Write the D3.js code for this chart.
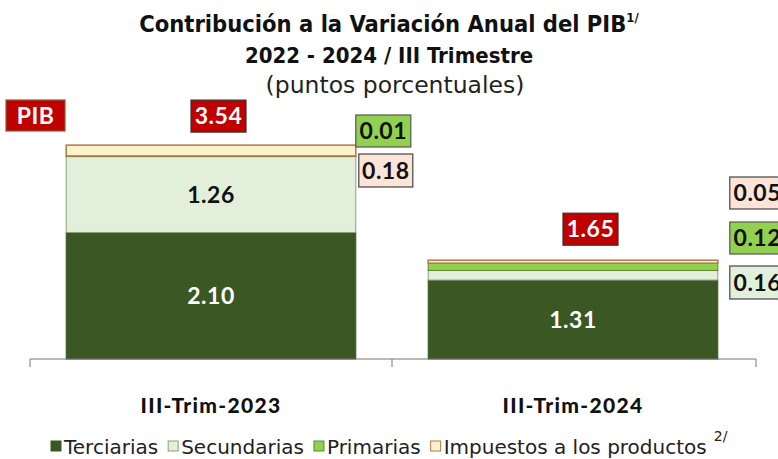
<!DOCTYPE html>
<html><head><meta charset="utf-8">
<script src="https://cdn.jsdelivr.net/npm/d3@7"></script>
<style>body{margin:0;background:#fff}svg{display:block}</style>
</head><body>
<svg id="c" width="778" height="459"></svg>
<script>
const categories = ["III-Trim-2023", "III-Trim-2024"];
const seriesNames = ["Terciarias", "Secundarias", "Primarias", "Impuestos a los productos"];
const terciarias = [2.10, 1.31];
const secundarias = [1.26, 0.16];
const primarias = [0.01, 0.12];
const impuestos = [0.18, 0.05];
const pib = [3.54, 1.65];
const fills = ["#3a5724", "#e2efda", "#92d050", "#fff2cc"];
const strokes = ["#3a5724", "#8aa07a", "#5a8a2a", "#b07a4a"];
const boxFills = [null, "#e2efda", "#92d050", "#fce4d6"];

const svg = d3.select("#c");
const F = "Lato, 'DejaVu Sans', sans-serif";
const FC = "'DejaVu Sans Condensed', 'DejaVu Sans', sans-serif";
const FW = "'DejaVu Sans', sans-serif";

const rows = categories.map((c, i) => ({cat: c, "Terciarias": terciarias[i], "Secundarias": secundarias[i], "Primarias": primarias[i], "Impuestos a los productos": impuestos[i]}));
const stack = d3.stack().keys(seriesNames)(rows);

const x = d3.scaleBand().domain(categories).range([30, 754]).paddingInner(0.2).paddingOuter(0.1);
const y = d3.scaleLinear().domain([0, 4]).range([359, 118]);

// title
const t = svg.append("text").attr("x", 389).attr("y", 32).attr("text-anchor", "middle")
  .attr("font-family", FC).attr("font-weight", "bold").attr("font-size", 23.5).attr("fill", "#111");
t.append("tspan").text("Contribución a la Variación Anual del PIB");
t.append("tspan").attr("font-size", 13).attr("dy", -10).text("1/");
svg.append("text").attr("x", 389).attr("y", 63).attr("text-anchor", "middle")
  .attr("font-family", FC).attr("font-weight", "bold").attr("font-size", 22).attr("fill", "#111")
  .text("2022 - 2024 / III Trimestre");
svg.append("text").attr("x", 395).attr("y", 93).attr("text-anchor", "middle")
  .attr("font-family", FW).attr("font-size", 23.5).attr("fill", "#222").text("(puntos porcentuales)");

// bars
stack.forEach((s, si) => {
  svg.append("g").selectAll("rect").data(s).join("rect")
    .attr("x", d => x(d.data.cat)).attr("width", x.bandwidth())
    .attr("y", d => y(d[1])).attr("height", d => y(d[0]) - y(d[1]))
    .attr("fill", fills[si]).attr("stroke", strokes[si]).attr("stroke-width", si === 3 ? 1.5 : 1);
});

// axis
const ax = svg.append("g").attr("transform", "translate(0,359)");
ax.append("line").attr("x1", 30).attr("x2", 756).attr("stroke", "#777");
[30, x(categories[0]) + x.bandwidth() + x.step() * x.paddingInner() / 2, 756].forEach(tx => {
  ax.append("line").attr("x1", tx).attr("x2", tx).attr("y1", 0).attr("y2", 8).attr("stroke", "#777");
});
categories.forEach(c => {
  svg.append("text").attr("x", x(c) + x.bandwidth()/2).attr("y", 413).attr("text-anchor", "middle")
    .attr("font-family", F).attr("font-weight", "900").attr("font-size", 21).attr("letter-spacing", 1.3)
    .attr("fill", "#111").text(c);
});

// inside labels
[0, 1].forEach(si => {
  stack[si].forEach(d => {
    if (d[1] - d[0] < 0.5) return;
    svg.append("text").attr("x", x(d.data.cat) + x.bandwidth()/2).attr("y", (y(d[0]) + y(d[1]))/2 + 8)
      .attr("text-anchor", "middle").attr("font-family", F).attr("font-weight", "bold").attr("font-size", 23)
      .attr("letter-spacing", 0.5).attr("fill", si === 0 ? "#fff" : "#111").text((d[1]-d[0]).toFixed(2));
  });
});

function box(cx, cy, w, h, fill, stroke, txt, color) {
  svg.append("rect").attr("x", cx).attr("y", cy).attr("width", w).attr("height", h)
    .attr("fill", fill).attr("stroke", stroke).attr("stroke-width", 1.2);
  svg.append("text").attr("x", cx + w/2).attr("y", cy + h/2 + 8).attr("text-anchor", "middle")
    .attr("font-family", F).attr("font-weight", "bold").attr("font-size", 23).attr("letter-spacing", 0.5)
    .attr("fill", color).text(txt);
}

// PIB labels
box(6, 100, 59, 31, "#c00000", "#8a5a3a", "PIB", "#fff");
const pibOffsets = [-20, -10];
categories.forEach((c, i) => {
  const top = y(d3.sum([terciarias[i], secundarias[i], primarias[i], impuestos[i]]));
  box(x(c) + x.bandwidth()/2 + pibOffsets[i], top - (i === 0 ? 45 : 47), 55, 32, "#c00000", "#333", pib[i].toFixed(2), "#fff");
});

// side labels
const r0 = x(categories[0]) + x.bandwidth();
box(r0, 115, 55, 32, boxFills[2], "#555", primarias[0].toFixed(2), "#111");
box(r0 + 3, 154, 54, 33, boxFills[3], "#444", impuestos[0].toFixed(2), "#111");
const r1 = x(categories[1]) + x.bandwidth();
box(r1 + 12, 177, 55, 32, boxFills[3], "#444", impuestos[1].toFixed(2), "#111");
box(r1 + 12, 222, 55, 32, boxFills[2], "#555", primarias[1].toFixed(2), "#111");
box(r1 + 12, 266, 55, 33, boxFills[1], "#444", secundarias[1].toFixed(2), "#111");

// legend
const lg = svg.append("g");
let lx = 51;
seriesNames.forEach((n, i) => {
  lg.append("rect").attr("x", lx).attr("y", 441).attr("width", 10).attr("height", 10)
    .attr("fill", fills[i]).attr("stroke", strokes[i]);
  const tx = lg.append("text").attr("x", lx + 13).attr("y", 454).attr("font-family", FW)
    .attr("font-size", 20).attr("fill", "#222").text(n);
  lx += 13 + tx.node().getComputedTextLength() + 10;
});
lg.append("text").attr("x", lx - 3).attr("y", 441).attr("font-family", FW).attr("font-size", 14).attr("fill", "#222").text("2/");
</script>
</body></html>
